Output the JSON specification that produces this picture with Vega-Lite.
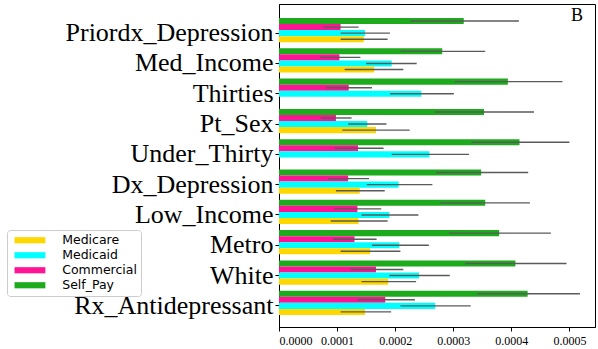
{
  "$schema": "https://vega.github.io/schema/vega-lite/v6.json",
  "autosize": {"type": "none"},
  "padding": {"left": 279, "top": 4, "right": 3, "bottom": 22},
  "width": 316,
  "height": 323,
  "background": "white",
  "title": {"text": "B", "anchor": "end", "frame": "group", "orient": "top", "offset": -21, "dx": -12, "font": "Liberation Serif", "fontSize": 18, "fontWeight": "normal", "color": "black"},
  "config": {
    "view": {"stroke": "black", "strokeWidth": 1},
    "axis": {"grid": false, "domainColor": "black", "tickColor": "black", "labelColor": "black"}
  },
  "data": {"values": [
    {"cat": "Priordx_Depression", "payer": "Self_Pay", "v": 0.000318, "lo": 0.000226, "hi": 0.000413},
    {"cat": "Priordx_Depression", "payer": "Commercial", "v": 0.000106, "lo": 0.000076, "hi": 0.000137},
    {"cat": "Priordx_Depression", "payer": "Medicaid", "v": 0.000148, "lo": 0.000106, "hi": 0.000191},
    {"cat": "Priordx_Depression", "payer": "Medicare", "v": 0.000146, "lo": 0.000106, "hi": 0.000187},
    {"cat": "Med_Income", "payer": "Self_Pay", "v": 0.000281, "lo": 0.000209, "hi": 0.000355},
    {"cat": "Med_Income", "payer": "Commercial", "v": 0.000104, "lo": 0.000070, "hi": 0.000140},
    {"cat": "Med_Income", "payer": "Medicaid", "v": 0.000194, "lo": 0.000150, "hi": 0.000237},
    {"cat": "Med_Income", "payer": "Medicare", "v": 0.000164, "lo": 0.000113, "hi": 0.000214},
    {"cat": "Thirties", "payer": "Self_Pay", "v": 0.000394, "lo": 0.000302, "hi": 0.000488},
    {"cat": "Thirties", "payer": "Commercial", "v": 0.000120, "lo": 0.000081, "hi": 0.000160},
    {"cat": "Thirties", "payer": "Medicaid", "v": 0.000245, "lo": 0.000191, "hi": 0.000301},
    {"cat": "Pt_Sex", "payer": "Self_Pay", "v": 0.000353, "lo": 0.000268, "hi": 0.000439},
    {"cat": "Pt_Sex", "payer": "Commercial", "v": 0.000098, "lo": 0.000072, "hi": 0.000125},
    {"cat": "Pt_Sex", "payer": "Medicaid", "v": 0.000152, "lo": 0.000119, "hi": 0.000185},
    {"cat": "Pt_Sex", "payer": "Medicare", "v": 0.000167, "lo": 0.000109, "hi": 0.000225},
    {"cat": "Under_Thirty", "payer": "Self_Pay", "v": 0.000414, "lo": 0.000331, "hi": 0.000500},
    {"cat": "Under_Thirty", "payer": "Commercial", "v": 0.000136, "lo": 0.000096, "hi": 0.000180},
    {"cat": "Under_Thirty", "payer": "Medicaid", "v": 0.000259, "lo": 0.000194, "hi": 0.000327},
    {"cat": "Dx_Depression", "payer": "Self_Pay", "v": 0.000348, "lo": 0.000270, "hi": 0.000429},
    {"cat": "Dx_Depression", "payer": "Commercial", "v": 0.000119, "lo": 0.000084, "hi": 0.000155},
    {"cat": "Dx_Depression", "payer": "Medicaid", "v": 0.000206, "lo": 0.000151, "hi": 0.000264},
    {"cat": "Dx_Depression", "payer": "Medicare", "v": 0.000139, "lo": 0.000098, "hi": 0.000182},
    {"cat": "Low_Income", "payer": "Self_Pay", "v": 0.000355, "lo": 0.000277, "hi": 0.000432},
    {"cat": "Low_Income", "payer": "Commercial", "v": 0.000135, "lo": 0.000095, "hi": 0.000176},
    {"cat": "Low_Income", "payer": "Medicaid", "v": 0.000190, "lo": 0.000142, "hi": 0.000240},
    {"cat": "Low_Income", "payer": "Medicare", "v": 0.000137, "lo": 0.000089, "hi": 0.000187},
    {"cat": "Metro", "payer": "Self_Pay", "v": 0.000379, "lo": 0.000292, "hi": 0.000468},
    {"cat": "Metro", "payer": "Commercial", "v": 0.000130, "lo": 0.000093, "hi": 0.000168},
    {"cat": "Metro", "payer": "Medicaid", "v": 0.000207, "lo": 0.000160, "hi": 0.000258},
    {"cat": "Metro", "payer": "Medicare", "v": 0.000157, "lo": 0.000106, "hi": 0.000209},
    {"cat": "White", "payer": "Self_Pay", "v": 0.000407, "lo": 0.000320, "hi": 0.000495},
    {"cat": "White", "payer": "Commercial", "v": 0.000167, "lo": 0.000123, "hi": 0.000214},
    {"cat": "White", "payer": "Medicaid", "v": 0.000241, "lo": 0.000190, "hi": 0.000294},
    {"cat": "White", "payer": "Medicare", "v": 0.000188, "lo": 0.000142, "hi": 0.000236},
    {"cat": "Rx_Antidepressant", "payer": "Self_Pay", "v": 0.000428, "lo": 0.000341, "hi": 0.000518},
    {"cat": "Rx_Antidepressant", "payer": "Commercial", "v": 0.000183, "lo": 0.000135, "hi": 0.000234},
    {"cat": "Rx_Antidepressant", "payer": "Medicaid", "v": 0.000269, "lo": 0.000209, "hi": 0.000330},
    {"cat": "Rx_Antidepressant", "payer": "Medicare", "v": 0.000148, "lo": 0.000106, "hi": 0.000193}
  ]},
  "encoding": {
    "y": {
      "field": "cat", "type": "nominal",
      "sort": ["Priordx_Depression", "Med_Income", "Thirties", "Pt_Sex", "Under_Thirty", "Dx_Depression", "Low_Income", "Metro", "White", "Rx_Antidepressant"],
      "scale": {"paddingInner": 0, "paddingOuter": 0.33, "align": 0.7},
      "axis": {"title": null, "labelFont": "Liberation Serif", "labelFontSize": 26, "labelLimit": 0, "tickSize": 4, "labelPadding": 2, "domain": true}
    },
    "yOffset": {
      "field": "payer", "type": "nominal",
      "scale": {"domain": ["Self_Pay", "Commercial", "Medicaid", "Medicare", "_pad"], "paddingInner": 0, "paddingOuter": 0}
    }
  },
  "layer": [
    {
      "mark": {"type": "bar", "cornerRadius": 0},
      "encoding": {
        "x": {
          "field": "v", "type": "quantitative",
          "scale": {"domain": [0, 0.000544], "nice": false, "zero": true},
          "axis": {"title": null, "values": [0, 0.0001, 0.0002, 0.0003, 0.0004, 0.0005], "format": ".4f", "labelFont": "Liberation Serif", "labelFontSize": 12, "tickSize": 4, "labelPadding": 4}
        },
        "color": {
          "field": "payer", "type": "nominal",
          "scale": {"domain": ["Medicare", "Medicaid", "Commercial", "Self_Pay"], "range": ["#FFD700", "#00FFFF", "#FF1493", "#1DAA1D"]},
          "legend": {
            "title": null,
            "orient": "none",
            "legendX": -272,
            "legendY": 226,
            "symbolType": "M-5,-1H5V1H-5Z",
            "symbolSize": 38,
            "symbolStrokeWidth": 0,
            "symbolOffset": 12.7,
            "labelFont": "DejaVu Sans",
            "labelFontSize": 12.5,
            "labelColor": "black",
            "labelOffset": 26,
            "rowPadding": 2,
            "padding": 4,
            "strokeColor": "#cccccc",
            "fillColor": "white",
            "cornerRadius": 3
          }
        }
      }
    },
    {
      "mark": {"type": "rule", "color": "#5a5a5a", "strokeWidth": 1.4},
      "encoding": {
        "x": {"field": "lo", "type": "quantitative"},
        "x2": {"field": "hi"}
      }
    }
  ]
}
